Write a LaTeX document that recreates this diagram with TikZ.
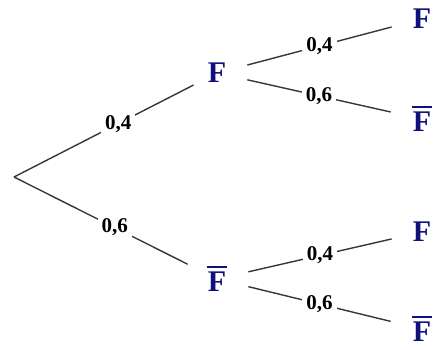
\documentclass[tikz,border=0pt]{standalone}
\usepackage{fontspec}
\setmainfont{Liberation Serif}
\usepackage{xcolor}
\usepackage{tikz}
\definecolor{event}{RGB}{15,15,125}
\definecolor{branch}{RGB}{55,55,55}
\newcommand{\barF}{\vbox{\hrule height 1.9pt\kern 3.5pt\hbox{\kern1pt F\kern1pt}}}

\begin{document}
\begin{tikzpicture}[x=1pt, y=-1pt,
    ev/.style={text=event, font=\fontsize{30}{30}\selectfont\bfseries, inner xsep=21pt, inner ysep=2pt},
    prob/.style={fill=white, font=\fontsize{21}{21}\selectfont\bfseries, inner xsep=4pt, inner ysep=1pt},
    edge/.style={draw=branch, line width=1.4pt}]
    \useasboundingbox (0,0) rectangle (438,349);
    \coordinate (root) at (14,177);
    \node[ev] (F) at (217,73) {F};
    \node[ev] (nF) at (217,279) {\barF};
    \node[ev] (FF) at (422,19) {F};
    \node[ev] (FnF) at (422,119) {\barF};
    \node[ev] (nFF) at (422,232) {F};
    \node[ev] (nFnF) at (422,329) {\barF};
    \draw[edge] (root) -- node[prob, pos=0.58] {0,4} (F);
    \draw[edge] (root) -- node[prob, pos=0.58] {0,6} (nF);
    \draw[edge] (F) -- node[prob] {0,4} (FF);
    \draw[edge] (F) -- node[prob] {0,6} (FnF);
    \draw[edge] (nF) -- node[prob] {0,4} (nFF);
    \draw[edge] (nF) -- node[prob] {0,6} (nFnF);
\end{tikzpicture}
\end{document}
